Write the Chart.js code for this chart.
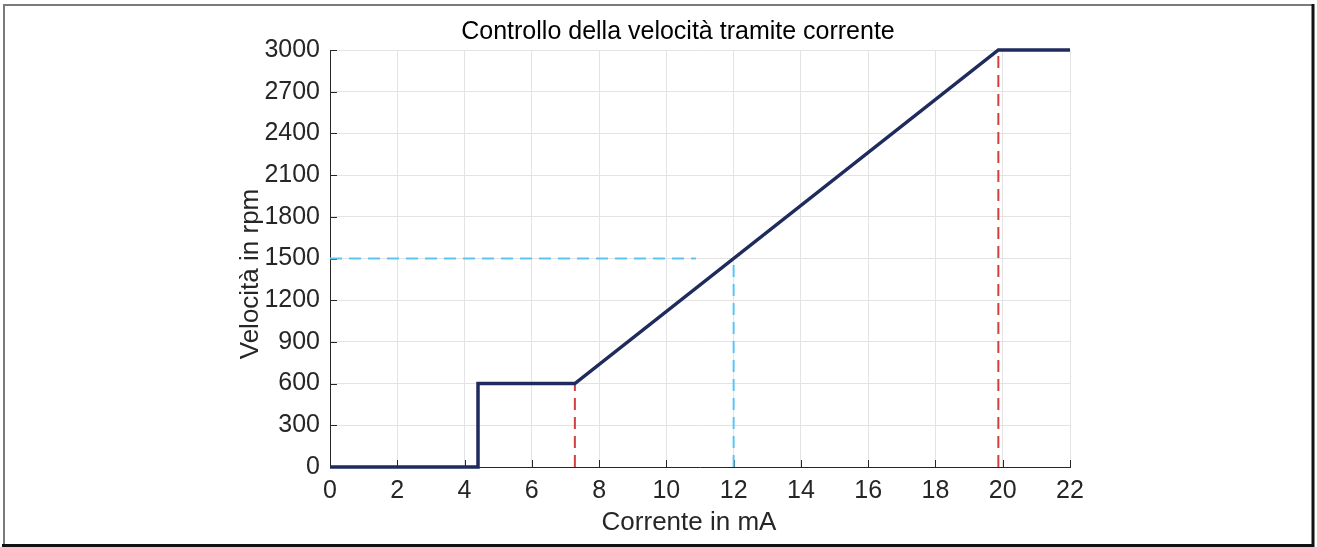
<!DOCTYPE html>
<html>
<head>
<meta charset="utf-8">
<script src="https://cdn.jsdelivr.net/npm/chart.js@4"></script>
<style>
  html, body { margin: 0; padding: 0; background: #fff; }
</style>
</head>
<body>
<canvas id="speedChart" width="1317" height="547"></canvas>
<script>
// curva corrente (mA) -> velocità (rpm)
var currentMA = [0, 4.4, 4.4, 7.28, 19.87, 22];
var speedRPM = [0, 0, 600, 600, 3000, 3000];

// punto di riferimento a metà scala
var refCurrent = 12;
var refSpeed = 1500;
var refLineEnd = 10.88;

// limiti del tratto lineare
var kneeLow = 7.28;
var kneeHigh = 19.87;

var xTicks = [0, 2, 4, 6, 8, 10, 12, 14, 16, 18, 20, 22];
var yTicks = [0, 300, 600, 900, 1200, 1500, 1800, 2100, 2400, 2700, 3000];

var FONT = '"Liberation Sans", Arial, Helvetica, sans-serif';
var AXIS = '#262626';

function pts(xs, ys) {
    return xs.map(function (x, i) { return { x: x, y: ys[i] }; });
}

function guide(data, color) {
    return {
        data: data,
        borderColor: color,
        borderWidth: 2,
        borderDash: [12, 7],
        pointRadius: 0,
        fill: false
    };
}

// cornice, tacche interne e testi
var decorations = {
    id: 'decorations',
    beforeDraw: function (chart) {
        var c = chart.ctx;
        c.save();
        c.fillStyle = '#fff';
        c.fillRect(0, 0, chart.width, chart.height);
        c.restore();
    },
    beforeDatasetsDraw: function (chart) {
        var c = chart.ctx, a = chart.chartArea;
        var sx = chart.scales.x, sy = chart.scales.y;
        c.save();
        c.strokeStyle = AXIS;
        c.lineWidth = 1;
        c.beginPath();
        xTicks.forEach(function (v) {
            var px = Math.round(sx.getPixelForValue(v)) + 0.5;
            c.moveTo(px, a.bottom);
            c.lineTo(px, a.bottom - 7);
        });
        yTicks.forEach(function (v) {
            var py = Math.round(sy.getPixelForValue(v)) + 0.5;
            c.moveTo(a.left, py);
            c.lineTo(a.left + 7, py);
        });
        c.stroke();
        c.restore();
    },
    afterDraw: function (chart) {
        var c = chart.ctx;
        c.save();
        // bordo grigio in alto e a sinistra, nero a destra e in basso
        c.strokeStyle = '#7a7a7a';
        c.lineWidth = 2;
        c.beginPath();
        c.moveTo(4, 545);
        c.lineTo(4, 5);
        c.lineTo(1312, 5);
        c.stroke();
        c.strokeStyle = '#111';
        c.lineWidth = 3;
        c.beginPath();
        c.moveTo(1313, 4);
        c.lineTo(1313, 545.5);
        c.lineTo(2, 545.5);
        c.stroke();

        c.fillStyle = '#000';
        c.textAlign = 'center';
        c.textBaseline = 'alphabetic';
        c.font = '25px ' + FONT;
        c.fillText('Controllo della velocità tramite corrente', 678, 39);

        c.fillStyle = AXIS;
        c.font = '26px ' + FONT;
        c.fillText('Corrente in mA', 689, 530);
        c.translate(258, 274);
        c.rotate(-Math.PI / 2);
        c.fillText('Velocità in rpm', 0, 0);
        c.restore();
    }
};

var ctx = document.getElementById('speedChart').getContext('2d');
var speedChart = new Chart(ctx, {
    type: 'line',
    data: {
        datasets: [
            {
                data: pts(currentMA, speedRPM),
                borderColor: '#1f2b5c',
                borderWidth: 3.5,
                pointRadius: 0,
                fill: false,
                clip: 4
            },
            guide(pts([0, refLineEnd], [refSpeed, refSpeed]), '#5cc6f2'),
            guide(pts([refCurrent, refCurrent], [0, refSpeed]), '#5cc6f2'),
            guide(pts([kneeLow, kneeLow], [0, 600]), '#d23f3f'),
            guide(pts([kneeHigh, kneeHigh], [0, 3000]), '#d23f3f')
        ]
    },
    options: {
        responsive: false,
        animation: false,
        devicePixelRatio: 1,
        layout: { padding: { top: 50, right: 247, left: 0, bottom: 0 } },
        plugins: {
            legend: { display: false },
            title: { display: false },
            tooltip: { enabled: false }
        },
        scales: {
            x: {
                type: 'linear',
                min: 0,
                max: 22,
                afterBuildTicks: function (s) { s.ticks = xTicks.map(function (v) { return { value: v }; }); },
                afterFit: function (s) { s.height = 80; },
                ticks: {
                    color: AXIS, padding: 9, maxRotation: 0,
                    font: { family: FONT, size: 25 },
                    callback: function (v) { return String(v); }
                },
                grid: { color: '#e3e3e3', drawTicks: false },
                border: { color: AXIS, width: 1 }
            },
            y: {
                type: 'linear',
                min: 0,
                max: 3000,
                afterBuildTicks: function (s) { s.ticks = yTicks.map(function (v) { return { value: v }; }); },
                afterFit: function (s) { s.width = 330; },
                ticks: {
                    color: AXIS, padding: 10,
                    font: { family: FONT, size: 25 },
                    callback: function (v) { return String(v); }
                },
                grid: { color: '#e3e3e3', drawTicks: false },
                border: { color: AXIS, width: 1 }
            }
        }
    },
    plugins: [decorations]
});
</script>
</body>
</html>
